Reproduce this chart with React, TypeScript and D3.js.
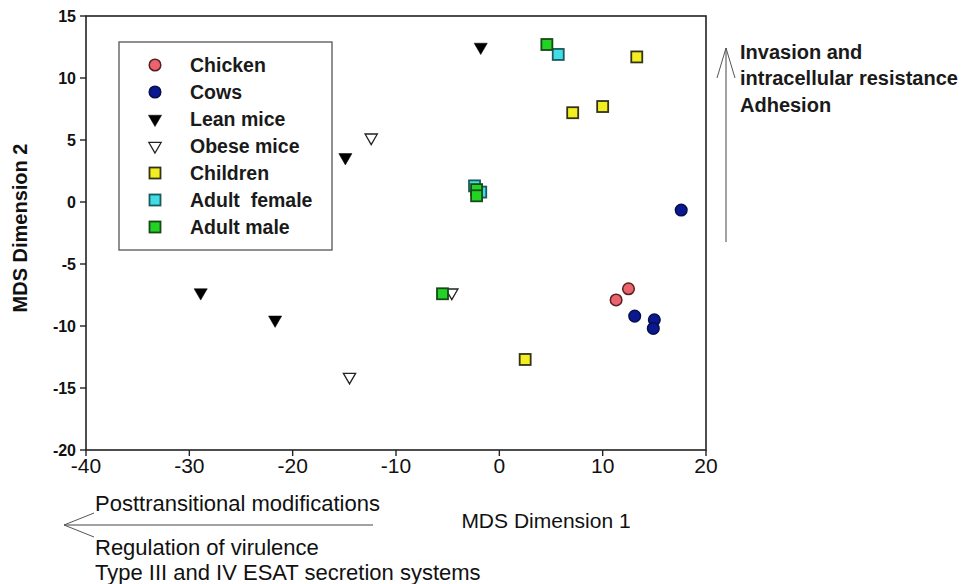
import React from "react";
import * as d3 from "d3";

// groups shown in the legend, in order
const groups = ["Chicken", "Cows", "Lean mice", "Obese mice", "Children", "Adult  female", "Adult male"];

// MDS coordinates, one array per group
const chickenX = [11.3, 12.5];
const chickenY = [-7.9, -7.0];
const cowsX = [17.6, 13.1, 15.0, 14.9];
const cowsY = [-0.65, -9.2, -9.5, -10.2];
const leanX = [-1.8, -14.9, -28.9, -21.7];
const leanY = [12.5, 3.6, -7.3, -9.5];
const obeseX = [-12.4, -4.6, -14.5];
const obeseY = [5.2, -7.3, -14.1];
const childrenX = [13.3, 7.1, 10.0, 2.5];
const childrenY = [11.7, 7.2, 7.7, -12.7];
const femaleX = [5.7, -2.4, -1.8];
const femaleY = [11.9, 1.3, 0.8];
const maleX = [4.6, -2.2, -2.2, -5.5];
const maleY = [12.7, 1.0, 0.5, -7.4];

const xTicks = [-40, -30, -20, -10, 0, 10, 20];
const yTicks = [15, 10, 5, 0, -5, -10, -15, -20];

const W = 965;
const H = 584;
const left = 86, right = 706, top = 16, bottom = 450;

const x = d3.scaleLinear().domain([-40, 20]).range([left, right]);
const y = d3.scaleLinear().domain([-20, 15]).range([bottom, top]);

type Style = { shape: string; fill: string; stroke: string };
const styles: Style[] = [
  { shape: "circle", fill: "#ea6470", stroke: "#5a2020" },
  { shape: "circle", fill: "#0c1890", stroke: "#06104a" },
  { shape: "down", fill: "#000000", stroke: "#000000" },
  { shape: "downOpen", fill: "#ffffff", stroke: "#222222" },
  { shape: "square", fill: "#f2ee22", stroke: "#333318" },
  { shape: "square", fill: "#40dde6", stroke: "#1b5a5a" },
  { shape: "square", fill: "#22d326", stroke: "#184a18" },
];

const series = [
  [chickenX, chickenY],
  [cowsX, cowsY],
  [leanX, leanY],
  [obeseX, obeseY],
  [childrenX, childrenY],
  [femaleX, femaleY],
  [maleX, maleY],
];

const Marker = ({ cx, cy, s }: { cx: number; cy: number; s: Style }) => {
  if (s.shape === "circle") {
    return <circle cx={cx} cy={cy} r={5.8} fill={s.fill} stroke={s.stroke} strokeWidth={1.5} />;
  }
  if (s.shape === "square") {
    return <rect x={cx - 5.5} y={cy - 5.5} width={11} height={11} fill={s.fill} stroke={s.stroke} strokeWidth={1.8} />;
  }
  const path = d3.symbol().type(d3.symbolTriangle).size(s.shape === "down" ? 75 : 65)();
  return (
    <path
      d={path as string}
      transform={`translate(${cx},${cy}) rotate(180)`}
      fill={s.fill}
      stroke={s.stroke}
      strokeWidth={s.shape === "down" ? 0.5 : 1.3}
    />
  );
};

export default function App() {
  const bold = { fontFamily: "'Liberation Sans', Arial, sans-serif", fontWeight: 700 } as const;
  const plain = { fontFamily: "'Liberation Sans', Arial, sans-serif" } as const;
  return (
    <svg width={W} height={H} style={{ position: "absolute", left: 0, top: 0, background: "#fff" }}>
      {/* frame */}
      <rect x={left} y={top} width={right - left} height={bottom - top} fill="none" stroke="#222" strokeWidth={1.6} />
      {/* y axis */}
      {yTicks.map((t) => (
        <g key={"y" + t}>
          <line x1={left - 6} x2={left} y1={y(t)} y2={y(t)} stroke="#222" strokeWidth={1.4} />
          <text x={left - 10} y={y(t)} dy="0.35em" textAnchor="end" fontSize={16} fill="#111" {...bold}>
            {t}
          </text>
        </g>
      ))}
      {/* x axis */}
      {xTicks.map((t) => (
        <g key={"x" + t}>
          <line x1={x(t)} x2={x(t)} y1={bottom} y2={bottom + 6} stroke="#222" strokeWidth={1.4} />
          <text x={x(t)} y={bottom + 23} textAnchor="middle" fontSize={21} fill="#111" {...plain}>
            {t}
          </text>
        </g>
      ))}
      <text transform="translate(27,228) rotate(-90)" textAnchor="middle" fontSize={20} fill="#111" {...bold}>
        MDS Dimension 2
      </text>
      <text x={546} y={528} textAnchor="middle" fontSize={21} fill="#111" {...plain}>
        MDS Dimension 1
      </text>

      {/* points */}
      {series.map(([xs, ys], gi) =>
        xs.map((v, i) => <Marker key={gi + "-" + i} cx={x(v)} cy={y(ys[i])} s={styles[gi]} />)
      )}

      {/* legend */}
      <rect x={119} y={42} width={213} height={208} fill="#fff" stroke="#555" strokeWidth={1.3} />
      {groups.map((g, i) => (
        <g key={g}>
          <Marker cx={155} cy={65 + i * 27} s={styles[i]} />
          <text
            x={190}
            y={65 + i * 27}
            dy="0.36em"
            fontSize={19.5}
            fill="#1a1a1a"
            style={{ whiteSpace: "pre" }}
            {...bold}
          >
            {g}
          </text>
        </g>
      ))}

      {/* right annotation */}
      <line x1={726} x2={726} y1={242} y2={48} stroke="#444" strokeWidth={1} />
      <path d="M717,78 L726,48 L735,78" fill="none" stroke="#555" strokeWidth={1} />
      <text x={740} y={59} fontSize={20} fill="#1a1a1a" {...bold}>Invasion and</text>
      <text x={740} y={85} fontSize={20} fill="#1a1a1a" {...bold}>intracellular resistance</text>
      <text x={740} y={112} fontSize={20} fill="#1a1a1a" {...bold}>Adhesion</text>

      {/* bottom annotation */}
      <text x={95} y={511} fontSize={22} fill="#111" {...plain}>Posttransitional modifications</text>
      <line x1={373} x2={64} y1={525} y2={525} stroke="#444" strokeWidth={1} />
      <path d="M94,513 L64,525 L94,537" fill="none" stroke="#555" strokeWidth={1} />
      <text x={95} y={555} fontSize={22} fill="#111" {...plain}>Regulation of virulence</text>
      <text x={95} y={580} fontSize={22} fill="#111" {...plain}>Type III and IV ESAT secretion systems</text>
    </svg>
  );
}
